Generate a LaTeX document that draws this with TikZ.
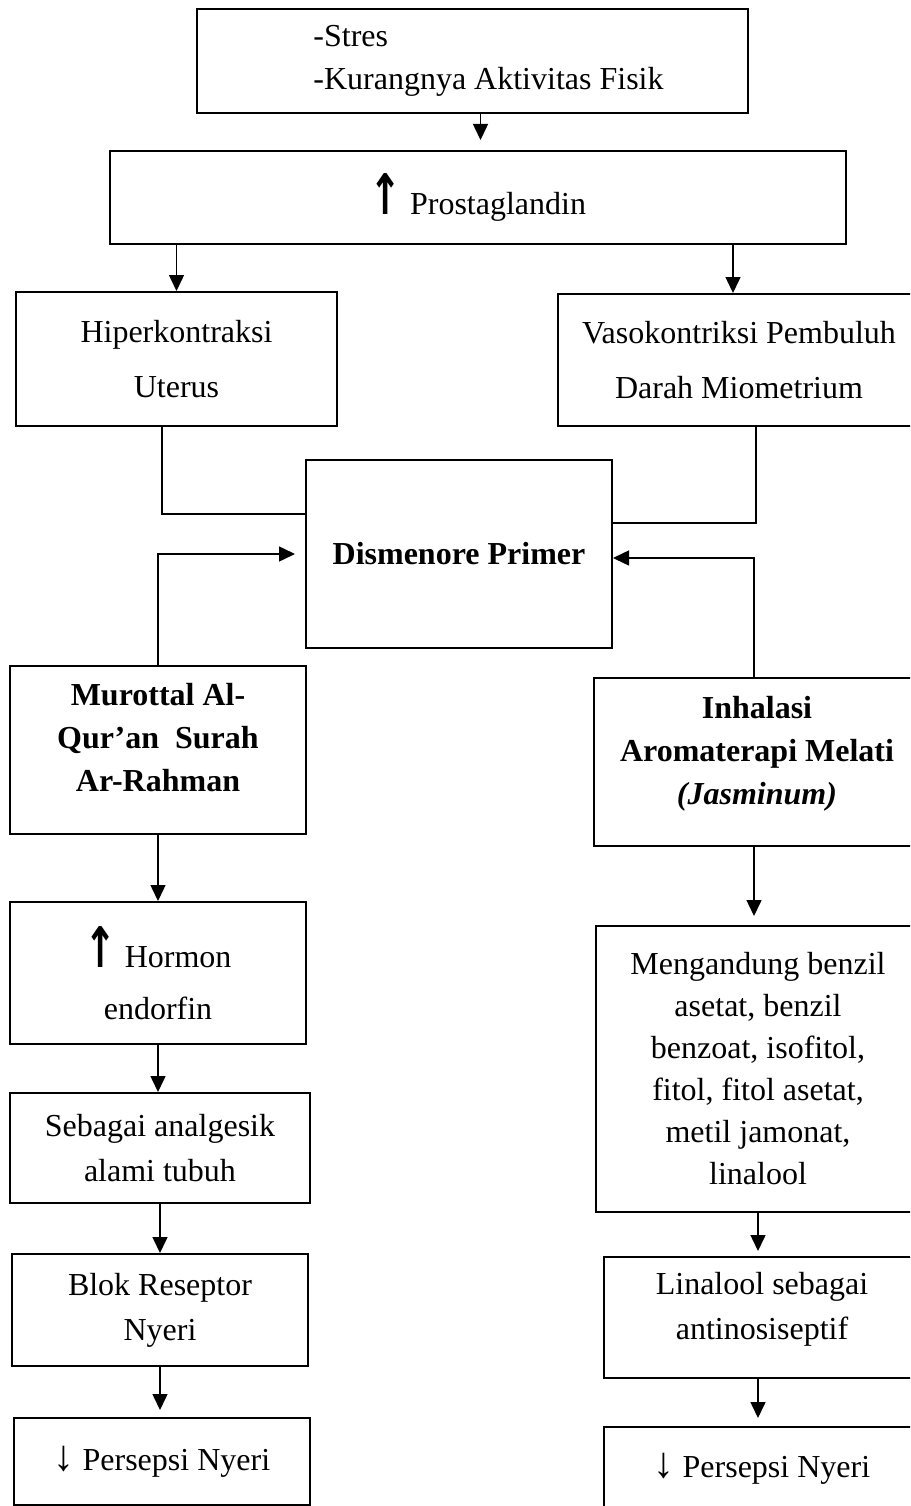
\documentclass[tikz,border=0pt]{standalone}
\usepackage{fontspec}
\setmainfont{Liberation Serif}
\newfontfamily\panah{DejaVu Sans}
\usetikzlibrary{arrows.meta}

\newcommand{\naik}{\scalebox{1.2}[1.75]{\panah\bfseries ↑}}
\newcommand{\turun}{\scalebox{1.3}[1.35]{↓}}

\begin{document}
\begin{tikzpicture}[x=1pt, y=-1pt,
  box/.style={draw, line width=2pt, inner sep=0pt, align=center, font=\fontsize{32}{#1}\selectfont},
  box/.default=43,
  bold/.style={font=\fontsize{32}{43}\selectfont\bfseries},
  link/.style={line width=1.5pt},
  arr/.style={link, -{Triangle[length=16pt, width=15pt]}}]
\useasboundingbox (0,0) rectangle (910,1506);
\clip (0,0) rectangle (910,1506);

% Penyebab
\node[box, align=left, minimum width=551, minimum height=104] (cause) at (472.5,61) {\hspace*{32pt}-Stres\\\hspace*{32pt}-Kurangnya Aktivitas Fisik};

% Prostaglandin
\node[box, minimum width=736, minimum height=93] (prost) at (478,197.5) {\naik\ Prostaglandin};

% Hiperkontraksi dan Vasokontriksi
\node[box=55, minimum width=321, minimum height=134] (hiper) at (176.5,359) {Hiperkontraksi\\Uterus};
\node[box=55, minimum width=362, minimum height=132] (vaso) at (739,360) {Vasokontriksi Pembuluh\\Darah Miometrium};

% Dismenore
\node[box, bold, minimum width=306, minimum height=188] (dis) at (459,554) {Dismenore Primer};

% Terapi
\node[box, bold, minimum width=296, minimum height=168] (mur) at (158,750) {Murottal Al-\\Qur’an\ \ Surah\\Ar-Rahman\\[-18pt]\mbox{}};
\node[box, bold, minimum width=326, minimum height=168] (inh) at (757,762) {Inhalasi\\Aromaterapi Melati\\\textit{(Jasminum)}\\[-20pt]\mbox{}};

% Jalur kiri
\node[box=52, minimum width=296, minimum height=142] (horm) at (158,973) {\naik\ Hormon\\endorfin};
\node[box=45, minimum width=300, minimum height=110] (seb) at (160,1148) {Sebagai analgesik\\alami tubuh};
\node[box=45, minimum width=296, minimum height=112] (blok) at (160,1310) {Blok Reseptor\\Nyeri};
\node[box, minimum width=296, minimum height=87] (pers1) at (162,1461.5) {\turun\ Persepsi Nyeri};

% Jalur kanan
\node[box=42, minimum width=324, minimum height=286] (meng) at (758,1069) {Mengandung benzil\\asetat, benzil\\benzoat, isofitol,\\fitol, fitol asetat,\\metil jamonat,\\linalool};
\node[box=45, minimum width=316, minimum height=121] (lina) at (762,1317.5) {Linalool sebagai\\antinosiseptif\\[-22pt]\mbox{}};
\node[box, minimum width=316, minimum height=84] (pers2) at (762,1469) {\turun\ Persepsi Nyeri};

% Panah
\draw[arr, shorten >=10pt] ([xshift=8pt]cause.south) -- ([xshift=8pt]cause.south |- prost.north);
\draw[arr] (hiper.north |- prost.south) -- (hiper.north);
\draw[arr] ([xshift=-6pt]vaso.north |- prost.south) -- ([xshift=-6pt]vaso.north);

\draw[link] ([xshift=-14.5pt]hiper.south) |- ([yshift=40pt]dis.west);
\draw[link] ([xshift=17pt]vaso.south) |- ([yshift=31pt]dis.east);

\draw[arr, shorten >=10pt] (mur.north) |- (dis.west);
\draw[arr] ([xshift=-3pt]inh.north) |- ([yshift=-4pt]dis.east);

\draw[arr] (mur.south) -- (horm.north);
\draw[arr] (horm.south) -- (horm.south |- seb.north);
\draw[arr] (seb.south) -- (seb.south |- blok.north);
\draw[arr, shorten >=7pt] (blok.south) -- (blok.south |- pers1.north);

\draw[arr, shorten >=9pt] ([xshift=-3pt]inh.south) -- ([xshift=-3pt]inh.south |- meng.north);
\draw[arr, shorten >=5pt] (meng.south) -- (meng.south |- lina.north);
\draw[arr, shorten >=8pt] ([xshift=-4pt]lina.south) -- ([xshift=-4pt]lina.south |- pers2.north);
\end{tikzpicture}
\end{document}
